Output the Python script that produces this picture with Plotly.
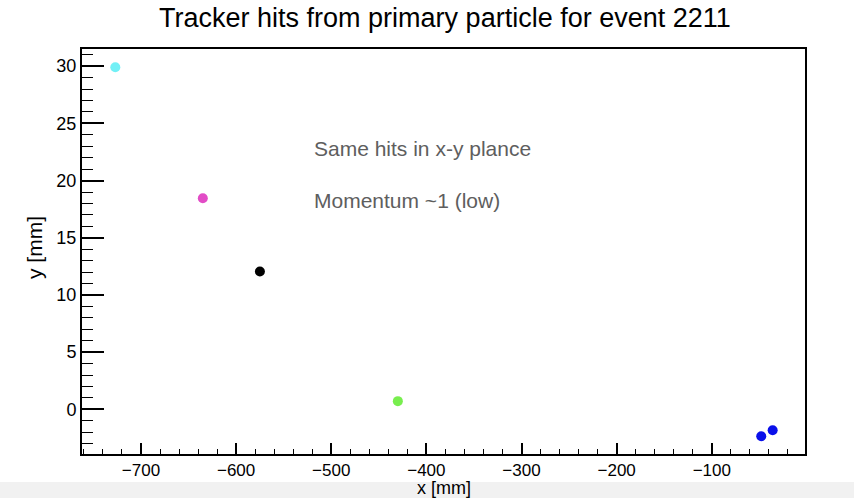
import plotly.graph_objects as go

# Hit positions (mm)
hit_x = [-727, -635, -575, -430, -48, -36]
hit_y = [29.9, 18.45, 12.05, 0.72, -2.35, -1.82]
hit_colors = ["#72f0f6", "#e24cc6", "#000000", "#78ee4e", "#0a10ea", "#0a10ea"]

x_range = [-762, -2]
y_range = [-3.9, 31.5]
x_tickvals = [-700, -600, -500, -400, -300, -200, -100]
y_tickvals = [0, 5, 10, 15, 20, 25, 30]

title_text = "Tracker hits from primary particle for event 2211"
x_title = "x [mm]"
y_title = "y [mm]"
notes = ["Same hits in x-y plance", "Momentum ~1 (low)"]
note_y = [22.8, 18.3]

fig = go.Figure()
fig.add_trace(go.Scatter(
    x=hit_x, y=hit_y, mode="markers",
    marker=dict(color=hit_colors, size=10, line=dict(width=0)),
    showlegend=False, hoverinfo="x+y",
))

font_family = "Liberation Sans, Arial, Helvetica, sans-serif"

fig.update_layout(
    width=854, height=498,
    margin=dict(l=82, r=49, t=49, b=44, autoexpand=False),
    paper_bgcolor="white", plot_bgcolor="white",
    font=dict(family=font_family, color="black"),
    title=dict(text=title_text, xref="container", x=0.521, xanchor="center",
               yref="container", y=1 - 18 / 498, yanchor="middle",
               font=dict(size=27, color="black", family=font_family)),
    xaxis=dict(
        range=x_range, tickvals=x_tickvals,
        ticktext=[f"\u2212{abs(v)}" for v in x_tickvals],
        ticks="inside", ticklen=11, tickwidth=1.5, tickcolor="black",
        minor=dict(ticks="inside", dtick=20, ticklen=5, tickwidth=1, tickcolor="black", showgrid=False),
        showline=True, linecolor="black", linewidth=2, mirror=True,
        showgrid=False, zeroline=False, automargin=False,
        tickfont=dict(size=17, color="black"),
    ),
    yaxis=dict(
        range=y_range, tickvals=y_tickvals,
        ticks="inside", ticklen=22, tickwidth=1.5, tickcolor="black",
        minor=dict(ticks="inside", dtick=1, ticklen=11, tickwidth=1, tickcolor="black", showgrid=False),
        showline=True, linecolor="black", linewidth=2, mirror=True,
        showgrid=False, zeroline=False, automargin=False,
        tickfont=dict(size=18, color="black"),
    ),
)

# axis titles
fig.add_annotation(x=0.5, y=(454 - 488) / 405, xref="paper", yref="paper", text=x_title,
                   showarrow=False, xanchor="center", yanchor="middle", borderpad=0,
                   font=dict(size=18, color="black", family=font_family))
fig.add_annotation(x=(34 - 82) / 723, y=(454 - 248) / 405, xref="paper", yref="paper", text=y_title,
                   showarrow=False, xanchor="center", yanchor="middle", textangle=-90,
                   font=dict(size=21, color="black", family=font_family))

for txt, yy in zip(notes, note_y):
    fig.add_annotation(x=-520, y=yy, xref="x", yref="y", text=txt, showarrow=False,
                       xanchor="left", yanchor="middle",
                       font=dict(size=21, color="#5e5e5e", family=font_family))

# light grey strip at the bottom of the image
fig.add_shape(type="rect", xref="paper", yref="paper",
              x0=-0.2, x1=1.2, y0=(454 - 482) / 405, y1=-0.2,
              fillcolor="#f1f1f1", line=dict(width=0), layer="below")

fig.write_html("out.html")
